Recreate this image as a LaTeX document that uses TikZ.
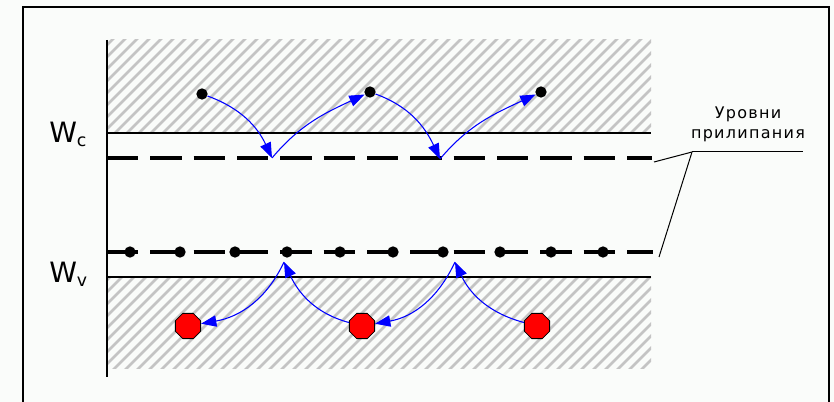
\documentclass[tikz,border=0pt]{standalone}
\usepackage{fontspec}
\setmainfont{DejaVu Sans}
\usetikzlibrary{arrows.meta,shapes.geometric}
\definecolor{bgwhite}{HTML}{FAFCFA}
\definecolor{hatchgray}{HTML}{C4C4C4}
\definecolor{jumpblue}{HTML}{0000FF}
\definecolor{holered}{HTML}{FF0000}
\begin{document}
\begin{tikzpicture}[x=0.75pt,y=-0.75pt,
  hatchline/.style={draw=hatchgray,line width=2.1pt},
  axisline/.style={draw=black,line width=1.5pt},
  bandline/.style={draw=black,line width=1.1pt},
  trapline/.style={draw=black,line width=2.3pt,dash pattern=on 23.5pt off 9pt},
  edot/.style={circle,fill=black,inner sep=0pt,minimum size=8.5pt},
  tdot/.style={circle,fill=black,inner sep=0pt,minimum size=8.5pt},
  hole/.style={regular polygon,regular polygon sides=8,draw=black,line width=0.6pt,fill=holered,inner sep=0pt,minimum size=20.5pt},
  jump/.style={draw=jumpblue,line width=0.8pt,-{Triangle[length=11.5pt,width=8.5pt]}},
  leader/.style={draw=black,line width=0.75pt},
  biglbl/.style={inner sep=0pt,font=\fontsize{21}{21}\selectfont},
  smalllbl/.style={inner sep=0pt,align=center,font=\fontsize{12}{15}\selectfont\addfontfeature{LetterSpace=8}}
]
\useasboundingbox (0,0) rectangle (834,402);
\fill[bgwhite] (0,0) rectangle (834,402);
% frame
\draw[line width=1.6pt] (23,402) -- (23,7) -- (829,7) -- (829,402);
% hatched bands
\begin{scope}
  \clip (107,40) rectangle (651,133);
  \foreach \x in {0,12,...,672} \draw[hatchline] (\x,140) -- ++(110,-110);
\end{scope}
\begin{scope}
  \clip (107,277) rectangle (651,368);
  \foreach \x in {0,12,...,672} \draw[hatchline] (\x,375) -- ++(110,-110);
\end{scope}
% band edges
\draw[bandline] (107,133) -- (651,133);
\draw[bandline] (107,277) -- (651,277);
% axis
\draw[axisline] (107,40) -- (107,377);
% trap levels
\draw[trapline] (107,158) -- (652,158);
\draw[trapline] (107,252) -- (653,252);
% labels
\node[biglbl,anchor=base west] (wc) at (49,143) {W\raisebox{-3pt}{\fontsize{13}{13}\selectfont c}};
\node[biglbl,anchor=base west] (wv) at (49,282) {W\raisebox{-3pt}{\fontsize{13}{13}\selectfont v}};
\node[smalllbl] (lbl) at (748,124) {Уровни\\прилипания};
% leader lines
\coordinate (lk) at (692,152);
\coordinate (lend) at (803,152);
\coordinate (lup) at (654,162);
\coordinate (llow) at (659,257);
\draw[leader] (lk) -- (lend);
\draw[leader] (lk) -- (lup);
\draw[leader] (lk) -- (llow);
% dots on lower trap level
\foreach \x [count=\i] in {130,180,235,287,340,393,443,500,551,603}
  \node[tdot] (d\i) at (\x,252) {};
% electrons in conduction band
\node[edot] (e1) at (202,94) {};
\node[edot] (e2) at (370,92) {};
\node[edot] (e3) at (541,92) {};
% holes in valence band
\node[hole] (r1) at (188,326) {};
\node[hole] (r2) at (362,326) {};
\node[hole] (r3) at (537,326) {};
% turning points
\coordinate (t1) at (272,158);
\coordinate (t2) at (440,159);
\coordinate (h1) at (284,262);
\coordinate (h2) at (455,262);
% electron jumps
\draw[jump] (e1) to[out=-20,in=115] (t1);
\draw[jump] (t1) to[out=50,in=205] (e2);
\draw[jump] (e2) to[out=-20,in=115] (t2);
\draw[jump] (t2) to[out=50,in=205] (e3);
% hole jumps
\draw[jump] (r3) to[out=165,in=295] (h2);
\draw[jump] (h2) to[out=245,in=10] (r2);
\draw[jump] (r2) to[out=165,in=295] (h1);
\draw[jump] (h1) to[out=245,in=10] (r1);
\end{tikzpicture}
\end{document}
